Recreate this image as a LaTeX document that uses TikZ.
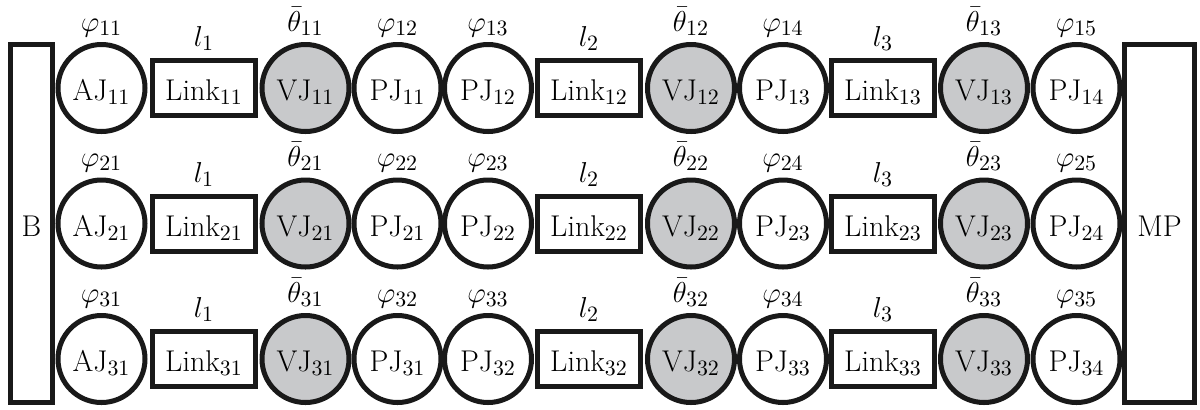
\documentclass[tikz,border=0pt]{standalone}
\usepackage{tikz}
\definecolor{vjgray}{RGB}{200,201,203}
\definecolor{ink}{RGB}{25,25,25}
\begin{document}
\begin{tikzpicture}[x=0.5pt,y=-0.5pt,
  every node/.style={font=\fontsize{15}{18}\selectfont, inner sep=0pt},
  shapetext/.style={text height=14.5pt,text depth=2pt},
  joint/.style={circle,draw=ink,line width=2.5pt,minimum size=43.5pt,shapetext},
  vjoint/.style={joint,fill=vjgray},
  linkbox/.style={rectangle,draw=ink,line width=2.5pt,minimum width=51.5pt,minimum height=27.5pt,shapetext},
  endbox/.style={rectangle,draw=ink,line width=2.5pt,minimum height=179pt,shapetext},
  lab/.style={anchor=base}]
\useasboundingbox (0,0) rectangle (1200,409);
\node[endbox,minimum width=21pt] (B) at (31.5,223.5) {B};
\node[endbox,minimum width=35pt] (MP) at (1159.5,223.5) {MP};
\foreach \r/\y in {1/88,2/223.5,3/359}{
  \node[joint]   (AJ\r1)   at (101.5,\y)  {AJ$_{\r1}$};
  \node[linkbox] (Link\r1) at (204,\y)    {Link$_{\r1}$};
  \node[vjoint]  (VJ\r1)   at (305.5,\y)  {VJ$_{\r1}$};
  \node[joint]   (PJ\r1)   at (397.5,\y)  {PJ$_{\r1}$};
  \node[joint]   (PJ\r2)   at (488,\y)    {PJ$_{\r2}$};
  \node[linkbox] (Link\r2) at (589,\y)    {Link$_{\r2}$};
  \node[vjoint]  (VJ\r2)   at (691,\y)    {VJ$_{\r2}$};
  \node[joint]   (PJ\r3)   at (783,\y)    {PJ$_{\r3}$};
  \node[linkbox] (Link\r3) at (883,\y)    {Link$_{\r3}$};
  \node[vjoint]  (VJ\r3)   at (984,\y)    {VJ$_{\r3}$};
  \node[joint]   (PJ\r4)   at (1076.5,\y) {PJ$_{\r4}$};
  % labels
  \node[lab] (phi\r1) at (101.5,\y-57)  {$\varphi_{\r1}$};
  \node[lab] (l\r1)   at (204,\y-41.5)  {$l_1$};
  \node[lab] (th\r1)  at (305.5,\y-57)  {$\bar{\theta}_{\r1}$};
  \node[lab] (phi\r2) at (397.5,\y-57)  {$\varphi_{\r2}$};
  \node[lab] (phi\r3) at (488,\y-57)    {$\varphi_{\r3}$};
  \node[lab] (l\r2)   at (589,\y-41.5)  {$l_2$};
  \node[lab] (th\r2)  at (691,\y-57)    {$\bar{\theta}_{\r2}$};
  \node[lab] (phi\r4) at (783,\y-57)    {$\varphi_{\r4}$};
  \node[lab] (l\r3)   at (883,\y-41.5)  {$l_3$};
  \node[lab] (th\r3)  at (984,\y-57)    {$\bar{\theta}_{\r3}$};
  \node[lab] (phi\r5) at (1076.5,\y-57) {$\varphi_{\r5}$};
}
\end{tikzpicture}
\end{document}
